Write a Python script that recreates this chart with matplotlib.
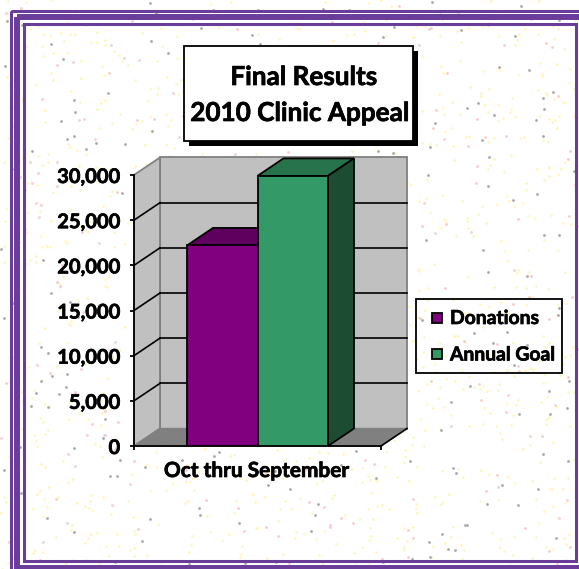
import numpy as np
import matplotlib
matplotlib.use('Agg')
import matplotlib.pyplot as plt
import matplotlib.patheffects as pe
from matplotlib.patches import Polygon, Rectangle

# Valores del grafico
categoria = 'Oct thru September'
series = ['Donations', 'Annual Goal']
valores = [22200, 29900]
colores = ['#800080', '#339966']
colores_top = ['#5f005f', '#26734c']
colores_lado = ['#400040', '#1c4d33']
ticks = [0, 5000, 10000, 15000, 20000, 25000, 30000]

W, H = 579, 569
plt.rcParams['font.family'] = ['Lato', 'DejaVu Sans']
fig = plt.figure(figsize=(W / 100, H / 100), dpi=100)

# Trazo fino para engordar la negrita
grueso = [pe.withStroke(linewidth=0.5, foreground='black')]

# Fondo con motas
fondo = fig.add_axes([0, 0, 1, 1], zorder=0)
fondo.set_xlim(0, W)
fondo.set_ylim(H, 0)
fondo.axis('off')
rng = np.random.RandomState(4)
fondo.scatter(rng.uniform(0, W, 1100), rng.uniform(0, H, 1100), s=4, color='#fff6c0', lw=0)
fondo.scatter(rng.uniform(0, W, 220), rng.uniform(0, H, 220), s=4, color='#f6cccc', lw=0)
fondo.scatter(rng.uniform(0, W, 220), rng.uniform(0, H, 220), s=4, color='#a8a8a8', lw=0)

# Marco
morado = '#6a3d9a'
fondo.add_patch(Rectangle((10.5, 10.5), 600, 600, fill=False, ec=morado, lw=2.2))
fondo.add_patch(Rectangle((17, 17), 600, 550.5, fill=False, ec=morado, lw=4.3))
fondo.add_patch(Rectangle((23.5, 23.5), 552, 537, fill=False, ec=morado, lw=2.2))

# Ejes: plano frontal
x0, x1, y_top, y_bot = 134, 381, 175, 446
ax = fig.add_axes([x0 / W, 1 - y_bot / H, (x1 - x0) / W, (y_bot - y_top) / H], zorder=1)
ax.patch.set_alpha(0)
ax.set_xlim(0, 1)
ax.set_ylim(0, 30000)
dx = 26 / (x1 - x0)
dy = 17.5 / (y_bot - y_top) * 30000

# Paredes
ax.add_patch(Polygon([(dx, dy), (1 + dx, dy), (1 + dx, 30000 + dy), (dx, 30000 + dy)],
                     fc='#c0c0c0', ec='#808080', lw=1.3, clip_on=False, zorder=1))
ax.add_patch(Polygon([(0, 0), (dx, dy), (dx, 30000 + dy), (0, 30000)],
                     fc='#c0c0c0', ec='#808080', lw=1.3, clip_on=False, zorder=1))
ax.add_patch(Polygon([(0, 0), (1, 0), (1 + dx, dy), (dx, dy)],
                     fc='#808080', ec='#808080', lw=1, clip_on=False, zorder=1))

# Rejilla
for t in ticks:
    if t > 0 and t < 30000:
        ax.plot([dx, 1 + dx], [t + dy, t + dy], color='black', lw=1.2, clip_on=False, zorder=2)
        ax.plot([0, dx], [t, t + dy], color='black', lw=1.2, clip_on=False, zorder=2)
ax.plot([1, 1 + dx], [0, dy], color='black', lw=1.2, clip_on=False, zorder=2)

# Barras
ancho = 70.5 / (x1 - x0)
izq = [(187 - x0) / (x1 - x0), (257.5 - x0) / (x1 - x0)]
for i in range(2):
    v = valores[i]
    l = izq[i]
    r = l + ancho
    ax.add_patch(Polygon([(l, v), (r, v), (r + dx, v + dy), (l + dx, v + dy)],
                         fc=colores_top[i], ec='black', lw=1.3, clip_on=False, zorder=3 + i))
    ax.add_patch(Polygon([(r, 0), (r + dx, dy), (r + dx, v + dy), (r, v)],
                         fc=colores_lado[i], ec='black', lw=1.3, clip_on=False, zorder=3 + i))
    ax.bar(l, v, width=ancho, align='edge', color=colores[i], ec='black', lw=1.3,
           zorder=3 + i, label=series[i])

# Ejes y etiquetas
for s in ['top', 'right']:
    ax.spines[s].set_visible(False)
ax.spines['left'].set_linewidth(1.3)
ax.spines['bottom'].set_linewidth(1.3)
ax.spines['left'].set_zorder(6)
ax.spines['bottom'].set_zorder(2)
ax.set_yticks(ticks)
ax.set_yticklabels([f'{t:,}' for t in ticks], fontsize=14.5, fontweight='bold', path_effects=grueso)
ax.tick_params(axis='y', length=3, width=1.3, direction='out', pad=7)
ax.set_xticks([0, 1])
ax.set_xticklabels(['', ''])
ax.tick_params(axis='x', length=3, width=1.3, direction='out')
fondo.text(257, 471, categoria, ha='center', va='center', fontsize=15, fontweight='bold',
           path_effects=grueso, zorder=5)

# Titulo
fondo.add_patch(Rectangle((189, 51), 229, 95, fc='black', ec='none', zorder=3))
fondo.add_patch(Rectangle((184, 46), 229, 95, fc='white', ec='black', lw=1.3, zorder=4))
fondo.text(304, 77, 'Final Results', ha='center', va='center', fontsize=18.8, fontweight='bold',
           path_effects=grueso, zorder=5)
fondo.text(300, 113, '2010 Clinic Appeal', ha='center', va='center', fontsize=18.8, fontweight='bold',
           path_effects=grueso, zorder=5)

# Leyenda
fondo.add_patch(Rectangle((416, 299), 146, 74, fill=False, ec='black', lw=1.3))
for i, yy in enumerate([317.5, 354]):
    fondo.add_patch(Rectangle((432, yy - 5), 10, 10, fc=colores[i], ec='black', lw=1.3))
    fondo.text(450, yy + 1, series[i], ha='left', va='center', fontsize=13.9, fontweight='bold',
               path_effects=grueso)

fig.savefig('out.png', dpi=100)
